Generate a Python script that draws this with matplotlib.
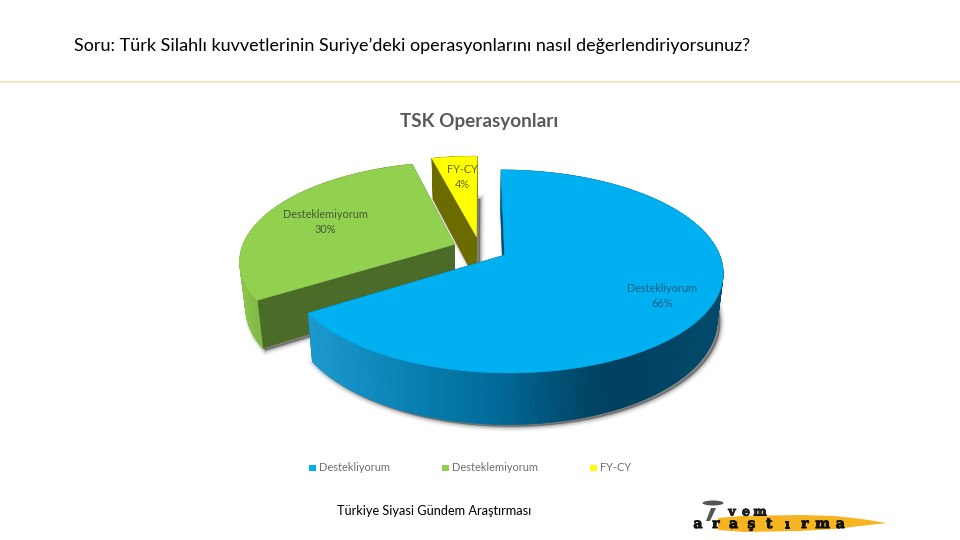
import numpy as np
import matplotlib
matplotlib.use("Agg")
import matplotlib.pyplot as plt
import matplotlib.patheffects as pe
from matplotlib.patches import Polygon, Ellipse, Rectangle

# chart data
categories = ["Destekliyorum", "Desteklemiyorum", "FY-CY"]
values = [66, 30, 4]
top_colors = ["#00B0F0", "#92D050", "#FFFF00"]
face_colors = ["#00476A", "#4B6B28", "#6B6B00"]
label_colors = ["#1C5F88", "#3F5F30", "#66661A"]

question = "Soru: Türk Silahlı kuvvetlerinin Suriye’deki operasyonlarını nasıl değerlendiriyorsunuz?"
chart_title = "TSK Operasyonları"
footer = "Türkiye Siyasi Gündem Araştırması"

# fake 3d projection, fitted to the picture (pixels)
CX, CY = 480, 249
R, RY = 213, 96.9
K = 0.159       # perspective
H = 45.5        # pie thickness
SHRINK = 0.025  # bottom ring is a bit smaller
EXPLODE = 0.13


def project(u, v, depth=0.0):
    s = 1 / (1 + K * v)
    f = 1 - SHRINK * depth
    return CX + R * u * s * f, CY - RY * v * s * f + H * s * depth


def lerp_color(x, stops):
    xs = [p[0] for p in stops]
    rgb = np.array([matplotlib.colors.to_rgb(p[1]) for p in stops])
    return tuple(np.interp(x, xs, rgb[:, i]) for i in range(3))


blue_side = [(311, "#1C9AD0"), (400, "#0A83B6"), (500, "#006A98"), (590, "#004566"), (625, "#003F5E"), (725, "#004A6C")]
green_side = [(235, "#8CC850"), (262, "#7DB640"), (300, "#55782D")]

fig = plt.figure(figsize=(9.6, 5.4), dpi=100)
ax = fig.add_axes([0, 0, 1, 1])
ax.set_xlim(0, 960)
ax.set_ylim(540, 0)
ax.axis("off")

# header
ax.text(74, 45.5, question, fontsize=12.93, family="Lato", color="black", va="center", ha="left")
ax.plot([0, 960], [82, 82], color="#F2E8B4", lw=1.3)
ax.text(479, 121, chart_title, fontsize=13.6, family="Lato", weight="bold", color="#595959", va="center", ha="center")

# slice angles, clockwise from the top
fractions = np.array(values) / sum(values)
edges = np.concatenate([[0], np.cumsum(fractions)]) * 2 * np.pi

slices = []
for i in range(len(values)):
    mid = (edges[i] + edges[i + 1]) / 2
    ou, ov = EXPLODE * np.sin(mid), EXPLODE * np.cos(mid)
    th = np.linspace(edges[i], edges[i + 1], 200)
    slices.append((ou, ov, ou + np.sin(th), ov + np.cos(th)))

# soft shadows under the slices
for ou, ov, u, v in slices:
    bx, by = project(np.r_[ou, u], np.r_[ov, v], 1.0)
    pts = np.column_stack([bx + 3, by + 2])
    for lw, a in [(7, 0.06), (4.5, 0.11), (2.5, 0.17), (1, 0.25)]:
        ax.add_patch(Polygon(pts, closed=True, fc="#303030", ec="#303030", lw=lw, alpha=a, zorder=1))

# draw back to front: green, yellow, blue
for z, i in [(2, 1), (3, 2), (4, 0)]:
    ou, ov, u, v = slices[i]
    # flat radial faces
    for uu, vv in [(u[0], v[0]), (u[-1], v[-1])]:
        fx0, fy0 = project(np.array([ou, uu]), np.array([ov, vv]), 0.0)
        fx1, fy1 = project(np.array([ou, uu]), np.array([ov, vv]), 1.0)
        pts = np.column_stack([np.r_[fx0, fx1[::-1]], np.r_[fy0, fy1[::-1]]])
        ax.add_patch(Polygon(pts, closed=True, fc=face_colors[i], ec=face_colors[i], lw=0.4, zorder=z))
    # curved rim in thin strips
    x0, y0 = project(u, v, 0.0)
    x1, y1 = project(u, v, 1.0)
    for j in range(len(u) - 1):
        if i == 0:
            c = lerp_color(x0[j], blue_side)
        elif i == 1:
            c = lerp_color(x0[j], green_side)
        else:
            c = face_colors[i]
        q = [(x0[j], y0[j]), (x0[j + 1], y0[j + 1]), (x1[j + 1], y1[j + 1]), (x1[j], y1[j])]
        ax.add_patch(Polygon(q, closed=True, fc=c, ec=c, lw=0.5, zorder=z))
    # top face
    tx, ty = project(np.r_[ou, u], np.r_[ov, v], 0.0)
    ax.add_patch(Polygon(np.column_stack([tx, ty]), closed=True, fc=top_colors[i], ec=top_colors[i], lw=0.4, zorder=z + 0.5))

# data labels
label_pos = [(662, 296), (325, 222), (462, 177)]
for i, (lx, ly) in enumerate(label_pos):
    ax.text(lx, ly, f"{categories[i]}\n{values[i]}%", fontsize=7.8, family="Lato", color=label_colors[i],
            ha="center", va="center", linespacing=1.35, zorder=6)

# legend
legend_x = [309, 442, 590]
for i, lx in enumerate(legend_x):
    ax.add_patch(Rectangle((lx, 465), 6.5, 6, fc=top_colors[i], ec="none", zorder=6))
    ax.text(lx + 10, 467.5, categories[i], fontsize=7.9, family="Lato", color="#6E6E6E", va="center", ha="left")

ax.text(434, 511, footer, fontsize=9.2, family="Lato", color="black", va="center", ha="center")

# logo
brush = Polygon([(718, 518), (742, 516), (800, 515), (835, 516), (862, 519), (887, 523), (860, 526),
                 (835, 529), (800, 531), (745, 532), (718, 530)], closed=True, fc="#F6B420", ec="none", zorder=2)
ax.add_patch(brush)
ax.add_patch(Ellipse((713, 503), 21, 5, fc="#555555", ec="none", zorder=3))
ax.add_patch(Polygon([(711, 508), (716, 508), (710, 521), (706, 521)], closed=True, fc="#555555", ec="none", zorder=3))
thick = [pe.withStroke(linewidth=0.7, foreground="#111111")]
for j, ch in enumerate("vem"):
    ax.text(732 + j * 14, 515.5, ch, fontsize=9, family="DejaVu Serif", weight="bold", color="#222222",
            ha="center", va="baseline", zorder=4, path_effects=thick)
for j, ch in enumerate("araştırma"):
    ax.text(698 + j * 17.8, 528, ch, fontsize=10, family="DejaVu Serif", weight="bold", color="#111111",
            ha="center", va="baseline", zorder=4, path_effects=thick)

fig.savefig("out.png", dpi=100, facecolor="white")
